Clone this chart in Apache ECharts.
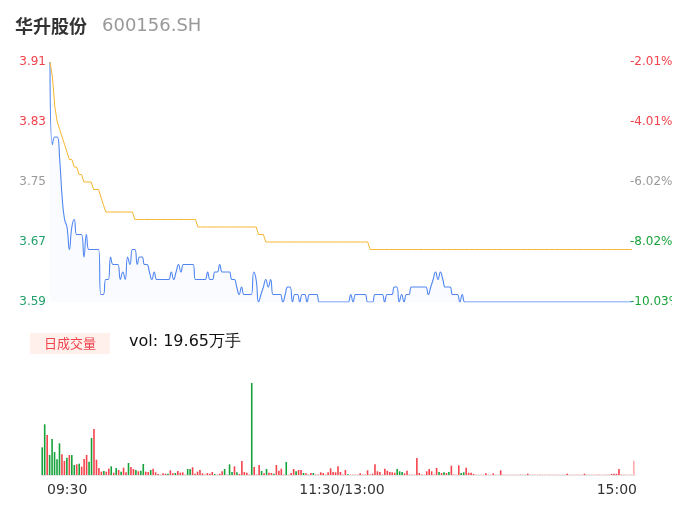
<!DOCTYPE html>
<html>
<head>
<meta charset="utf-8">
<script src="https://cdn.jsdelivr.net/npm/echarts@6/dist/echarts.min.js"></script>
<style>
html,body{margin:0;padding:0;background:#fff;}
#main{width:672px;height:524px;}
</style>
</head>
<body>
<div id="main"></div>
<script>
// ---- data ----
const stockName = '华升股份';
const stockCode = '600156.SH';
const volumeTitle = '日成交量';
const volumeText = 'vol: 19.65万手';

// minute prices (09:30 .. 11:30 / 13:01 .. 15:00), 241 points
const prices = [
  3.91,3.80,3.81,3.81,3.78,3.73,3.70,3.69,3.66,3.69,
  3.70,3.68,3.68,3.68,3.65,3.68,3.66,3.66,3.66,3.66,
  3.66,3.60,3.60,3.62,3.62,3.65,3.64,3.64,3.64,3.62,
  3.63,3.62,3.65,3.64,3.66,3.66,3.64,3.65,3.65,3.64,
  3.64,3.63,3.62,3.63,3.62,3.62,3.62,3.62,3.62,3.62,
  3.63,3.62,3.63,3.64,3.63,3.64,3.64,3.64,3.64,3.64,
  3.62,3.62,3.62,3.62,3.62,3.63,3.62,3.62,3.63,3.63,
  3.64,3.63,3.63,3.63,3.63,3.62,3.62,3.61,3.60,3.61,
  3.60,3.60,3.60,3.60,3.63,3.62,3.59,3.60,3.61,3.62,
  3.61,3.62,3.60,3.60,3.60,3.60,3.59,3.60,3.61,3.61,
  3.59,3.60,3.60,3.59,3.60,3.60,3.59,3.60,3.60,3.60,
  3.60,3.59,3.59,3.59,3.59,3.59,3.59,3.59,3.59,3.59,
  3.59,3.59,3.59,3.59,3.60,3.59,3.60,3.60,3.60,3.60,
  3.60,3.59,3.59,3.59,3.60,3.60,3.60,3.60,3.59,3.60,
  3.60,3.60,3.61,3.61,3.59,3.60,3.59,3.60,3.60,3.61,
  3.61,3.61,3.61,3.61,3.61,3.61,3.60,3.61,3.62,3.63,
  3.62,3.63,3.62,3.61,3.61,3.61,3.60,3.60,3.60,3.59,
  3.60,3.59,3.59,3.59,3.59,3.59,3.59,3.59,3.59,3.59,
  3.59,3.59,3.59,3.59,3.59,3.59,3.59,3.59,3.59,3.59,
  3.59,3.59,3.59,3.59,3.59,3.59,3.59,3.59,3.59,3.59,
  3.59,3.59,3.59,3.59,3.59,3.59,3.59,3.59,3.59,3.59,
  3.59,3.59,3.59,3.59,3.59,3.59,3.59,3.59,3.59,3.59,
  3.59,3.59,3.59,3.59,3.59,3.59,3.59,3.59,3.59,3.59,
  3.59,3.59,3.59,3.59,3.59,3.59,3.59,3.59,3.59,3.59,
  3.59
];

// average price line
const avgPrices = [
  3.91,3.89,3.85,3.83,3.82,3.81,3.80,3.79,3.78,3.78,
  3.77,3.77,3.76,3.76,3.75,3.75,3.75,3.75,3.74,3.74,
  3.74,3.73,3.72,3.71,3.71,3.71,3.71,3.71,3.71,3.71,
  3.71,3.71,3.71,3.71,3.71,3.70,3.70,3.70,3.70,3.70,
  3.70,3.70,3.70,3.70,3.70,3.70,3.70,3.70,3.70,3.70,
  3.70,3.70,3.70,3.70,3.70,3.70,3.70,3.70,3.70,3.70,
  3.70,3.69,3.69,3.69,3.69,3.69,3.69,3.69,3.69,3.69,
  3.69,3.69,3.69,3.69,3.69,3.69,3.69,3.69,3.69,3.69,
  3.69,3.69,3.69,3.69,3.69,3.69,3.68,3.68,3.68,3.67,
  3.67,3.67,3.67,3.67,3.67,3.67,3.67,3.67,3.67,3.67,
  3.67,3.67,3.67,3.67,3.67,3.67,3.67,3.67,3.67,3.67,
  3.67,3.67,3.67,3.67,3.67,3.67,3.67,3.67,3.67,3.67,
  3.67,3.67,3.67,3.67,3.67,3.67,3.67,3.67,3.67,3.67,
  3.67,3.67,3.66,3.66,3.66,3.66,3.66,3.66,3.66,3.66,
  3.66,3.66,3.66,3.66,3.66,3.66,3.66,3.66,3.66,3.66,
  3.66,3.66,3.66,3.66,3.66,3.66,3.66,3.66,3.66,3.66,
  3.66,3.66,3.66,3.66,3.66,3.66,3.66,3.66,3.66,3.66,
  3.66,3.66,3.66,3.66,3.66,3.66,3.66,3.66,3.66,3.66,
  3.66,3.66,3.66,3.66,3.66,3.66,3.66,3.66,3.66,3.66,
  3.66,3.66,3.66,3.66,3.66,3.66,3.66,3.66,3.66,3.66,
  3.66,3.66,3.66,3.66,3.66,3.66,3.66,3.66,3.66,3.66,
  3.66,3.66,3.66,3.66,3.66,3.66,3.66,3.66,3.66,3.66,
  3.66,3.66,3.66,3.66,3.66,3.66,3.66,3.66,3.66,3.66,
  3.66,3.66,3.66,3.66,3.66,3.66,3.66,3.66,3.66,3.66,
  3.66
];

// minute volumes (relative units)
const volumes = [
  27.7,50.7,40,20,36,23,15.7,31.7,20.7,14,
  17.3,20,20,10,10.7,11.3,8.3,16,20,13.3,
  37,46,15.3,7,3.3,4,3.3,6.3,8.7,2.3,
  7,5,3.3,7.3,2.7,12,8,6,5,3.7,
  4.3,11,3.3,3,5,6.3,2.7,1,0.7,1.7,
  1.3,1.3,4.7,1.7,2,4,2.3,2.7,0.7,6,
  6,7.7,1.3,3.3,5,1.7,1,2,1.3,3,
  1,0.7,1.3,3.7,6,0.7,10.7,3,8.7,2.7,
  1,14,3,2.3,1,92,8,1,10,4,
  1.7,6,2.3,2,1.3,10,4.3,6.3,1,13,
  0.7,2,6,3.7,5,5,2,1.7,1,2,
  2,1,1,2.7,2,1,2.7,6.7,3,2.7,
  8.7,3,1,5,0.7,0.7,0.7,0.7,0.7,1.7,
  1,1,4.7,1,1.3,10.7,3.7,3,1,6.3,
  4.3,3,2.7,2.3,6,3.7,3,1.7,4.3,1,
  0.7,0.7,17,2,1,0.7,3.7,6,3.7,1,
  7,3,2,2.7,2,3,9.3,1,0.7,9.7,
  2,2.7,7.3,2.3,2.3,1,0.5,0.5,0.5,0.5,
  1.7,0.5,0.5,1.7,0.5,0.5,4.7,0.6,0.6,0.6,
  0.6,0.6,0.6,0.6,0.8,0.6,0.6,1.3,0.6,0.6,
  0.6,0.6,0.8,0.6,0.6,0.6,0.8,0.6,0.6,0.6,
  0.6,0.6,0.6,1.3,0.6,0.6,0.6,0.8,0.6,0.6,
  1.3,0.6,0.6,0.6,0.6,0.6,0.8,0.6,0.6,0.8,
  0.8,1,1.2,1.2,6,1,0.7,0.6,0.6,0.6,
  14.3
];
// bar direction: u = up (red), d = down (green), f = flat (pale)
const volDir = [
  'd','d','u','d','d','d','d','d','u','u',
  'd','u','d','d','u','d','u','u','u','d',
  'd','u','u','u','u','d','u','u','d','u',
  'd','u','d','u','u','d','u','u','d','u',
  'd','d','u','u','d','u','u','u','f','u',
  'u','d','u','u','d','u','u','u','f','d',
  'd','u','u','u','u','u','f','u','u','u',
  'd','f','u','u','d','f','d','d','u','d',
  'u','u','u','u','f','d','u','f','u','d',
  'u','d','u','u','d','u','u','u','f','d',
  'f','u','u','d','u','u','d','u','f','u',
  'd','f','f','u','u','f','u','u','u','u',
  'u','u','f','u','d','f','f','f','f','u',
  'f','f','u','f','u','u','u','u','f','u',
  'u','u','u','u','d','d','d','u','u','f',
  'f','f','u','u','f','f','u','u','u','f',
  'u','d','u','d','u','d','u','f','f','u',
  'd','d','u','u','u','u','f','f','f','f',
  'u','f','f','u','f','f','u','f','f','f',
  'f','f','f','f','f','f','f','u','f','f',
  'f','f','f','f','f','f','f','f','f','f',
  'f','f','f','u','f','f','f','f','f','f',
  'u','f','f','f','f','f','f','f','f','f',
  'f','u','u','u','u','f','f','f','f','f',
  'f'
];

const priceTicks = [3.59, 3.67, 3.75, 3.83, 3.91];
const pctTicks = ['-10.03%', '-8.02%', '-6.02%', '-4.01%', '-2.01%'];
const leftTickColors = ['#22a06b', '#22a06b', '#999999', '#f0424b', '#f0424b'];
const rightTickColors = ['#18a33a', '#18a33a', '#999999', '#f0424b', '#f0424b'];
const timeTickIndex = [0, 120, 240];
const timeTickLabels = ['09:30', '11:30/13:00', '15:00'];

// ---- chart ----
const minuteIdx = prices.map((_, i) => String(i));
const dirColor = { u: '#f5424b', d: '#16a23a', f: '#ffaaad' };

const chart = echarts.init(document.getElementById('main'), null, { renderer: 'canvas' });

const tickIdxOf = (v) => priceTicks.findIndex(t => Math.abs(t - v) < 1e-6);

const option = {
  animation: false,
  backgroundColor: '#ffffff',
  title: [
    {
      left: 15, top: 17, padding: 0,
      text: '{a|' + stockName + '}{b|' + stockCode + '}',
      textStyle: {
        rich: {
          a: { fontSize: 18, color: '#333333', fontWeight: 'bold', fontFamily: 'Noto Sans CJK SC' },
          b: { fontSize: 18, color: '#999999', fontWeight: 'normal', padding: [0, 0, 0, 15], fontFamily: 'DejaVu Sans' }
        }
      }
    },
    {
      left: 30, top: 333, text: volumeTitle,
      backgroundColor: '#fff0ec', padding: [4, 14, 4, 14],
      textStyle: { fontSize: 13, color: '#f0424b', fontWeight: 'normal', fontFamily: 'Noto Sans CJK SC' }
    },
    {
      left: 129, top: 334, text: volumeText, padding: 0,
      textStyle: { fontSize: 16, color: '#111111', fontWeight: 'normal', fontFamily: 'DejaVu Sans' }
    }
  ],
  grid: [
    { left: 50, right: 40, top: 62, bottom: 222, outerBoundsMode: 'none', containLabel: false },
    { left: 41, right: 37, top: 383, bottom: 49, outerBoundsMode: 'none', containLabel: false },
    { left: 47, right: 35, top: 383, bottom: 49, outerBoundsMode: 'none', containLabel: false }
  ],
  xAxis: [
    { type: 'category', gridIndex: 0, data: minuteIdx, boundaryGap: false, show: false },
    {
      type: 'category', gridIndex: 1, data: minuteIdx, boundaryGap: true,
      axisLine: { show: true, lineStyle: { color: '#e4e4e4', width: 1 } },
      axisTick: { show: false }, axisLabel: { show: false }, splitLine: { show: false }
    },
    {
      type: 'value', gridIndex: 2, min: 0, max: 240,
      axisLine: { show: false }, axisTick: { show: false }, splitLine: { show: false },
      axisLabel: {
        customValues: timeTickIndex,
        formatter: (v) => timeTickLabels[timeTickIndex.indexOf(v)],
        alignMinLabel: 'left', alignMaxLabel: 'right',
        fontSize: 14, color: '#333333', margin: 8, fontFamily: 'DejaVu Sans'
      }
    }
  ],
  yAxis: [
    {
      type: 'value', gridIndex: 0, min: 3.59, max: 3.91, position: 'left',
      axisLine: { show: false }, axisTick: { show: false }, splitLine: { show: false },
      axisLabel: {
        customValues: priceTicks,
        formatter: (v) => v.toFixed(2),
        color: (v) => leftTickColors[tickIdxOf(v)],
        fontSize: 12, margin: 4, fontFamily: 'DejaVu Sans'
      }
    },
    {
      type: 'value', gridIndex: 0, min: 3.59, max: 3.91, position: 'right',
      axisLine: { show: false }, axisTick: { show: false }, splitLine: { show: false },
      axisLabel: {
        customValues: priceTicks,
        formatter: (v) => pctTicks[tickIdxOf(v)],
        color: (v) => rightTickColors[tickIdxOf(v)],
        fontSize: 12, margin: -2, fontFamily: 'DejaVu Sans'
      }
    },
    { type: 'value', gridIndex: 1, min: 0, max: 'dataMax', show: false },
    { type: 'value', gridIndex: 2, min: 0, max: 1, show: false }
  ],
  series: [
    {
      name: 'price', type: 'line', xAxisIndex: 0, yAxisIndex: 0,
      data: prices, smooth: true, symbol: 'none',
      lineStyle: { color: '#4f86f1', width: 1.1 },
      areaStyle: { color: 'rgba(79,134,241,0.045)' }
    },
    {
      name: 'avg', type: 'line', xAxisIndex: 0, yAxisIndex: 0,
      data: avgPrices, smooth: false, symbol: 'none',
      lineStyle: { color: '#f7b530', width: 1 }
    },
    {
      name: 'vol', type: 'bar', xAxisIndex: 1, yAxisIndex: 2,
      barWidth: 1.6,
      data: volumes.map((v, i) => ({ value: v, itemStyle: { color: dirColor[volDir[i]] } }))
    }
  ]
};
chart.setOption(option);
</script>
</body>
</html>
